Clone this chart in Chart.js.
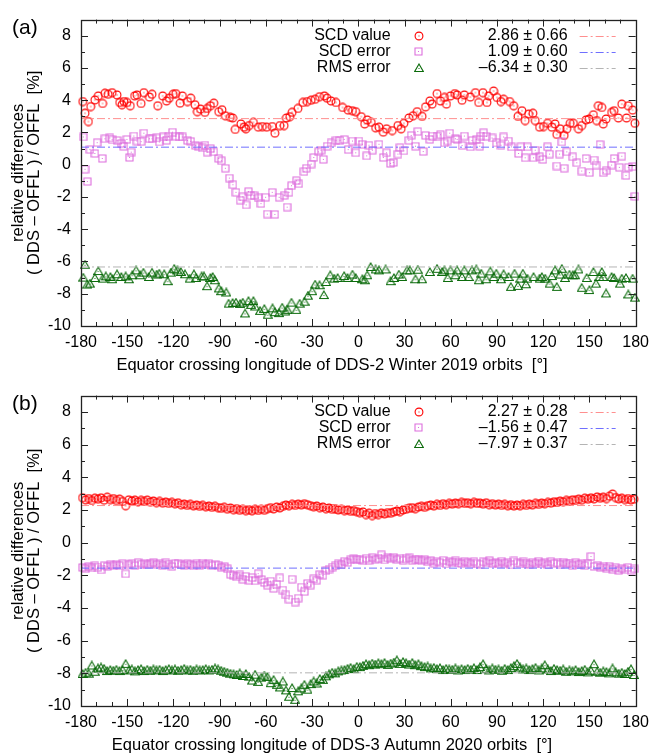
<!DOCTYPE html>
<html>
<head>
<meta charset="utf-8">
<script src="https://cdn.jsdelivr.net/npm/chart.js@4.4.0/dist/chart.umd.min.js"></script>
<style>
  html, body { margin: 0; padding: 0; background: #fff; }
  #wrap { position: relative; width: 656px; height: 753px; }
  canvas { position: absolute; left: 0; }
</style>
</head>
<body>
<div id="wrap">
  <canvas id="chartA" width="656" height="376" style="top:0"></canvas>
  <canvas id="chartB" width="656" height="377" style="top:376px"></canvas>
</div>
<script>
const FONT = '"Liberation Sans", Arial, Helvetica, sans-serif';

const seriesNames = ['SCD value', 'SCD error', 'RMS error'];

// panel (a): DDS-2 Winter 2019
const meansA = [2.86, 1.09, -6.34];
const sdsA = [0.66, 0.60, 0.30];

const lonRedA = [
  -178.9,-177.4,-175.2,-173.7,-171.0,-168.8,-166.0,-164.5,-162.4,-159.8,
  -156.6,-154.9,-153.4,-152.1,-150.2,-148.0,-145.2,-143.7,-141.0,-139.2,
  -135.6,-133.9,-130.2,-127.0,-124.5,-122.7,-120.2,-118.5,-115.7,-114.2,
  -110.9,-108.8,-106.0,-104.5,-102.4,-99.6,-98.1,-96.0,-93.8,-90.6,
  -88.5,-86.3,-83.1,-81.6,-79.9,-76.2,-74.1,-73.0,-70.9,-68.1,
  -64.9,-62.3,-59.5,-55.9,-54.2,-50.9,-48.2,-46.7,-44.5,-43.0,
  -39.2,-36.0,-33.2,-30.6,-28.0,-25.2,-22.0,-20.3,-17.7,-14.5,
  -10.2,-6.6,-3.8,-1.7,1.9,4.1,5.8,8.4,11.2,13.4,
  16.2,18.3,22.0,25.7,27.8,29.6,32.8,35.6,38.2,41.4,
  43.6,46.4,47.9,51.1,53.3,55.9,57.2,59.8,62.6,64.1,
  67.3,68.8,72.7,76.0,78.1,80.9,83.5,84.6,87.8,90.0,
  92.6,94.3,98.2,100.8,103.6,106.2,108.3,110.5,113.3,114.8,
  117.6,120.2,122.8,125.6,127.7,128.8,131.0,133.6,135.3,137.5,
  139.6,142.9,145.0,147.8,149.8,152.6,154.7,155.8,158.0,159.0,
  160.8,164.4,166.0,168.8,171.0,174.1,175.2,178.0,179.5
];
const redA = [
  3.92,3.19,2.68,3.61,4.02,4.27,3.80,4.43,4.37,4.47,
  4.33,3.86,3.72,3.92,3.86,3.66,4.27,4.33,3.80,4.47,
  4.20,4.37,3.66,4.27,3.96,4.13,4.37,4.41,3.82,4.27,
  3.92,4.13,3.72,3.29,3.45,3.25,3.49,3.66,3.82,3.29,
  3.41,3.04,2.94,2.90,2.19,2.53,2.33,2.23,2.43,2.63,
  2.33,2.37,2.33,2.37,1.96,2.43,2.43,2.90,2.98,3.25,
  3.49,3.86,3.92,4.00,4.06,4.22,4.27,4.13,3.96,3.86,
  3.55,3.39,3.35,3.29,2.98,2.53,2.78,2.63,2.29,2.33,
  2.02,2.23,2.12,2.43,2.23,2.57,2.90,3.04,3.29,3.00,
  3.59,3.96,3.76,4.41,3.96,4.17,3.76,4.27,4.41,4.33,
  4.00,4.33,4.20,4.47,3.86,4.47,3.86,4.27,4.57,4.17,
  3.92,4.06,3.92,3.66,3.00,3.35,2.74,3.14,3.19,2.74,
  2.33,2.37,2.57,2.33,2.53,1.88,2.23,1.82,2.23,2.57,
  2.57,2.23,2.43,2.78,2.84,3.10,2.74,3.66,3.55,2.53,
  2.84,3.25,3.35,2.90,3.76,2.90,3.66,3.39,2.57
];

const lonPinkA = [
  -178.5,-177.4,-175.9,-174.2,-171.0,-169.5,-166.2,-164.5,-161.3,-159.8,
  -156.6,-153.8,-152.3,-150.2,-148.5,-147.4,-145.7,-143.7,-141.0,-139.2,
  -135.6,-133.9,-130.9,-129.2,-126.6,-124.5,-123.2,-120.6,-118.5,-116.3,
  -114.2,-110.9,-108.8,-105.6,-103.5,-101.3,-99.6,-98.1,-96.0,-93.8,
  -90.6,-88.9,-86.3,-83.7,-81.4,-79.4,-76.7,-75.0,-72.8,-71.3,
  -69.8,-67.7,-64.9,-63.2,-60.2,-59.1,-55.9,-54.2,-51.4,-48.2,
  -46.2,-45.0,-43.4,-40.2,-38.7,-35.3,-33.8,-30.6,-28.9,-25.9,
  -24.2,-22.7,-20.3,-17.7,-14.5,-11.9,-9.2,-6.6,-3.8,-1.7,
  0.4,2.6,5.4,6.9,9.1,13.4,16.2,18.3,20.9,22.7,
  25.7,27.0,29.6,32.8,34.3,37.1,38.6,42.1,43.6,46.4,
  47.9,51.1,53.3,55.9,57.6,59.3,63.0,64.1,67.3,68.8,
  72.7,73.8,76.6,78.8,79.6,81.3,83.1,86.8,89.6,92.6,
  94.3,97.5,99.3,104.0,105.5,108.3,109.8,113.7,114.8,117.6,
  119.8,122.8,124.1,128.8,130.6,132.1,133.6,135.3,139.2,141.8,
  145.0,147.8,150.0,153.0,154.3,156.9,159.0,160.8,164.4,166.0,
  169.4,171.0,173.7,175.2,178.0,179.5
];
const pinkA = [
  1.72,-0.28,-1.04,0.94,0.70,1.37,0.39,1.61,1.66,1.55,
  1.51,1.31,1.15,1.57,0.45,0.78,1.78,1.47,1.43,1.96,
  1.61,1.61,1.66,1.41,1.72,1.51,1.76,2.02,1.76,1.72,
  1.72,1.51,1.45,1.19,1.11,1.04,1.21,0.78,1.00,0.80,
  0.39,0.25,-0.22,-0.83,-1.24,-1.71,-2.20,-1.99,-2.49,-1.67,
  -1.92,-1.90,-2.06,-2.41,-2.02,-3.06,-1.71,-3.08,-2.02,-1.90,
  -2.63,-1.71,-1.30,-0.99,-1.18,-0.43,-0.22,0.04,0.45,0.80,
  0.90,0.33,1.15,1.35,1.51,1.51,1.57,0.94,1.47,0.74,
  1.47,1.27,0.55,1.21,0.90,1.27,0.45,0.74,0.08,0.14,
  0.66,1.06,0.86,1.51,1.82,1.15,2.06,0.82,1.82,1.57,
  1.78,1.78,1.86,1.35,1.47,1.96,1.61,1.57,1.19,1.78,
  1.11,1.51,1.57,1.15,1.78,1.98,1.76,1.66,1.35,1.21,
  1.72,1.47,1.11,0.70,1.11,0.43,1.11,0.43,0.90,0.49,
  0.33,1.11,0.66,-0.08,0.66,1.41,-0.22,0.80,0.49,0.12,
  -0.39,0.39,-0.49,0.29,-0.02,1.25,-0.49,-0.37,-0.02,0.39,
  -0.16,0.53,-0.67,-0.16,-0.12,-1.96
];

const lonGreenA = [
  -178.5,-177.4,-175.9,-174.2,-171.0,-168.8,-166.0,-163.9,-160.9,-159.6,
  -156.6,-153.8,-151.0,-148.9,-146.7,-144.2,-141.6,-139.5,-136.0,-133.9,
  -130.9,-129.2,-126.0,-123.8,-121.7,-119.5,-117.4,-115.2,-112.5,-109.5,
  -106.7,-105.2,-101.7,-100.2,-98.1,-96.0,-94.5,-93.2,-90.6,-88.9,
  -85.7,-84.2,-81.6,-79.4,-76.7,-75.0,-73.5,-71.3,-69.6,-68.1,
  -67.0,-63.8,-61.0,-58.9,-55.7,-54.2,-51.4,-49.4,-47.3,-46.0,
  -43.4,-40.2,-38.1,-34.9,-32.7,-29.9,-28.0,-25.2,-22.4,-20.9,
  -18.2,-15.6,-13.4,-9.2,-7.0,-3.8,-1.7,2.6,4.1,5.8,
  8.0,11.2,13.4,17.7,20.9,23.1,26.3,28.5,31.7,33.4,
  37.1,38.6,41.4,46.4,51.1,54.4,55.9,58.0,59.8,63.0,
  64.1,67.3,68.8,71.6,73.8,76.6,78.1,79.8,83.1,85.7,
  87.8,89.6,92.6,94.3,97.5,99.0,101.4,103.6,105.1,106.8,
  108.8,109.8,113.7,117.6,119.1,121.3,124.1,125.6,127.7,128.8,
  131.0,132.1,134.2,137.0,139.2,140.7,142.9,145.0,148.2,150.0,
  152.6,154.3,156.5,158.0,159.0,160.8,164.4,166.0,169.8,171.0,
  173.7,175.2,178.0,179.5
];
const greenA = [
  -7.00,-6.20,-7.43,-7.37,-7.02,-6.59,-7.06,-6.92,-6.96,-7.10,
  -6.79,-6.96,-6.92,-7.10,-6.85,-6.55,-6.85,-6.69,-6.96,-6.69,
  -6.81,-6.75,-6.79,-7.22,-6.69,-6.45,-6.55,-6.65,-6.79,-7.06,
  -6.79,-7.02,-6.92,-6.92,-7.53,-7.02,-6.96,-7.16,-7.67,-7.84,
  -7.92,-8.61,-8.57,-8.55,-8.63,-8.55,-9.22,-8.45,-8.69,-8.45,
  -8.79,-9.06,-8.94,-9.30,-8.90,-9.14,-9.20,-8.86,-9.10,-9.00,
  -8.55,-9.00,-8.61,-8.49,-8.12,-7.84,-7.43,-7.47,-8.08,-7.27,
  -6.85,-7.06,-7.02,-6.90,-7.02,-6.81,-7.02,-7.10,-7.16,-6.85,
  -6.34,-6.49,-6.55,-6.49,-7.22,-7.02,-6.81,-6.96,-6.55,-6.55,
  -7.10,-6.51,-7.10,-6.65,-6.45,-6.65,-6.55,-7.02,-6.55,-6.85,
  -6.55,-6.96,-6.55,-6.96,-6.55,-6.49,-7.16,-6.75,-7.10,-6.61,
  -6.96,-6.75,-7.10,-6.79,-6.96,-7.57,-6.75,-7.51,-7.06,-6.75,
  -7.41,-7.06,-6.96,-7.06,-6.96,-7.06,-7.37,-6.90,-6.55,-7.57,
  -6.81,-6.45,-7.02,-6.81,-6.85,-6.85,-6.49,-7.63,-7.02,-7.77,
  -6.65,-7.37,-6.96,-6.65,-6.96,-7.98,-6.96,-7.02,-7.37,-7.06,
  -7.02,-8.04,-7.06,-8.24
];

// panel (b): DDS-3 Autumn 2020
const meansB = [2.27, -1.56, -7.97];
const sdsB = [0.28, 0.47, 0.37];

const lonB = [
  -179,-177,-175,-173,-171,-169,-167,-165,-163,-161,
  -159,-157,-155,-153,-151,-149,-147,-145,-143,-141,
  -139,-137,-135,-133,-131,-129,-127,-125,-123,-121,
  -119,-117,-115,-113,-111,-109,-107,-105,-103,-101,
  -99,-97,-95,-93,-91,-89,-87,-85,-83,-81,
  -79,-77,-75,-73,-71,-69,-67,-65,-63,-61,
  -59,-57,-55,-53,-51,-49,-47,-45,-43,-41,
  -39,-37,-35,-33,-31,-29,-27,-25,-23,-21,
  -19,-17,-15,-13,-11,-9,-7,-5,-3,-1,
  1,3,5,7,9,11,13,15,17,19,
  21,23,25,27,29,31,33,35,37,39,
  41,43,45,47,49,51,53,55,57,59,
  61,63,65,67,69,71,73,75,77,79,
  81,83,85,87,89,91,93,95,97,99,
  101,103,105,107,109,111,113,115,117,119,
  121,123,125,127,129,131,133,135,137,139,
  141,143,145,147,149,151,153,155,157,159,
  161,163,165,167,169,171,173,175,177,179
];
const redB = [
  2.75,2.62,2.70,2.58,2.72, 2.66,2.74,2.60,2.78,2.64,
  2.70,2.58,2.66,2.52,2.26, 2.62,2.55,2.60,2.50,2.58,
  2.52,2.60,2.48,2.55,2.45, 2.52,2.42,2.48,2.40,2.46,
  2.38,2.44,2.32,2.36,2.28, 2.34,2.25,2.30,2.22,2.28,
  2.20,2.24,2.16,2.22,2.14, 2.10,2.16,2.05,2.12,2.02,
  2.08,1.98,2.04,1.96,2.02, 1.95,2.03,1.97,2.05,1.98,
  2.08,2.14,2.06,2.18,2.12, 2.22,2.30,2.26,2.34,2.28,
  2.36,2.30,2.38,2.32,2.26, 2.20,2.24,2.14,2.18,2.08,
  2.12,2.04,2.08,2.00,2.04, 1.96,2.00,1.92,1.96,1.90,
  1.84,1.88,1.72,1.80,1.66, 1.78,1.72,1.82,1.76,1.84,
  1.80,1.88,1.94,1.90,2.00, 2.04,2.10,2.14,2.08,2.18,
  2.22,2.16,2.26,2.30,2.24, 2.34,2.28,2.38,2.32,2.40,
  2.36,2.42,2.38,2.46,2.40, 2.44,2.38,2.46,2.40,2.42,
  2.36,2.44,2.32,2.38,2.30, 2.36,2.28,2.34,2.26,2.32,
  2.24,2.30,2.26,2.34,2.28, 2.36,2.30,2.40,2.34,2.42,
  2.38,2.46,2.42,2.50,2.46, 2.54,2.50,2.58,2.52,2.62,
  2.58,2.66,2.60,2.72,2.66, 2.74,2.68,2.80,2.72,2.78,
  2.70,2.84,2.97,2.76,2.68, 2.72,2.64,2.70,2.62,2.66
];
const pinkB = [
  -1.52,-1.60,-1.46,-1.55,-1.42, -1.50,-1.67,-1.40,-1.46,-1.36,
  -1.42,-1.34,-1.40,-1.30,-1.91, -1.36,-1.28,-1.40,-1.24,-1.32,
  -1.26,-1.36,-1.30,-1.22,-1.34, -1.28,-1.38,-1.24,-1.32,-1.46,
  -1.30,-1.26,-1.36,-1.40,-1.28, -1.34,-1.42,-1.30,-1.38,-1.26,
  -1.36,-1.28,-1.40,-1.32,-1.38, -1.52,-1.46,-1.60,-1.94,-2.02,
  -2.10,-1.98,-2.24,-2.06,-2.30, -2.14,-2.34,-1.90,-2.26,-2.44,
  -2.60,-2.36,-2.80,-2.54,-2.16, -2.90,-3.20,-3.46,-2.24,-3.64,
  -3.40,-2.72,-3.00,-2.50,-2.60, -2.22,-2.30,-1.94,-2.00,-1.72,
  -1.62,-1.50,-1.42,-1.30,-1.36, -1.14,-1.22,-1.06,-1.00,-1.04,
  -1.02,-1.10,-0.96,-1.08,-0.92, -1.04,-0.98,-0.75,-1.06,-0.94,
  -1.00,-0.90,-1.04,-0.96,-1.08, -1.00,-0.94,-1.10,-1.02,-1.06,
  -1.12,-1.04,-1.18,-1.10,-1.26, -1.14,-1.22,-1.08,-1.30,-1.16,
  -1.20,-1.12,-1.24,-1.28,-1.14, -1.22,-1.30,-1.16,-1.26,-1.32,
  -1.18,-1.24,-1.10,-1.28,-1.22, -1.30,-1.14,-1.26,-1.20,-1.36,
  -1.12,-1.24,-1.30,-1.18,-1.26, -1.34,-1.20,-1.28,-1.14,-1.30,
  -1.22,-1.36,-1.18,-1.28,-1.24, -1.32,-1.20,-1.30,-1.26,-1.38,
  -1.24,-1.34,-1.28,-1.40,-1.30, -0.85,-1.46,-1.38,-1.52,-1.44,
  -1.56,-1.48,-1.62,-1.54,-1.70, -1.58,-1.66,-1.52,-1.68,-1.60
];
const greenB = [
  -8.04,-7.96,-8.02,-7.52,-7.90, -7.70,-7.64,-7.72,-7.86,-7.80,
  -7.84,-7.78,-7.86,-7.80,-7.42, -7.82,-7.76,-7.88,-7.80,-7.74,
  -7.86,-7.78,-7.84,-7.76,-7.82, -7.78,-7.86,-7.80,-7.74,-7.82,
  -7.76,-7.84,-7.80,-7.72,-7.82, -7.78,-7.84,-7.76,-7.82,-7.80,
  -7.74,-7.82,-7.78,-7.70,-7.76, -7.84,-7.90,-7.96,-8.02,-8.06,
  -8.10,-8.00,-8.16,-8.04,-8.20, -8.44,-8.08,-8.52,-8.26,-8.14,
  -8.22,-8.60,-8.40,-8.70,-8.86, -8.50,-9.04,-9.43,-8.90,-9.62,
  -9.10,-8.92,-8.70,-9.00,-8.66, -8.50,-8.62,-8.34,-8.40,-8.18,
  -8.06,-7.96,-8.00,-7.88,-7.82, -7.80,-7.72,-7.66,-7.74,-7.60,
  -7.62,-7.54,-7.44,-7.50,-7.40, -7.46,-7.38,-7.44,-7.36,-7.48,
  -7.40,-7.34,-7.20,-7.42,-7.30, -7.38,-7.46,-7.36,-7.50,-7.44,
  -7.56,-7.62,-7.58,-7.70,-7.66, -7.74,-7.68,-7.80,-7.72,-7.76,
  -7.78,-7.70,-7.82,-7.74,-7.80, -7.72,-7.78,-7.68,-7.80,-7.62,
  -7.44,-7.74,-7.82,-7.70,-7.78, -7.76,-7.84,-7.72,-7.80,-7.68,
  -7.56,-7.42,-7.64,-7.76,-7.70, -7.80,-7.74,-7.66,-7.82,-7.70,
  -7.50,-7.76,-7.86,-7.72,-7.80, -7.84,-7.76,-7.90,-7.82,-7.88,
  -7.80,-7.92,-7.86,-7.78,-7.94, -7.84,-7.44,-7.90,-7.96,-7.88,
  -7.92,-8.00,-7.70,-7.94,-8.02, -7.96,-8.04,-7.90,-7.74,-8.10
];

const pointColors = ['#ff0000', '#dd6edd', '#0b6b0b'];
const lineColors = ['#ff8f8f', '#6f6fff', '#b4b4b4'];

// small canvases used as point styles (open marker with a centre dot)
function marker(kind, color, size) {
  const cv = document.createElement('canvas');
  cv.width = size; cv.height = size;
  const g = cv.getContext('2d');
  const m = size / 2;
  g.strokeStyle = color; g.fillStyle = color; g.lineWidth = 1.1;
  g.beginPath();
  if (kind === 'circle') g.arc(m, m, m - 1.1, 0, Math.PI * 2);
  else if (kind === 'square') g.rect(1, 1, size - 2, size - 2);
  else { g.moveTo(m, 1); g.lineTo(size - 0.7, size - 1.5); g.lineTo(0.7, size - 1.5); g.closePath(); }
  g.stroke();
  g.fillRect(m - 0.5, (kind === 'triangle' ? m + 0.5 : m) - 0.5, 1, 1);
  return cv;
}
const markers = [
  marker('circle', pointColors[0], 10),
  marker('square', pointColors[1], 9),
  marker('triangle', pointColors[2], 10)
];

function pts(lon, val) {
  return val.map((v, i) => ({ x: lon[i], y: v }));
}
function fmt(v) {
  return v.toFixed(2).replace('-', '\u2013');
}

function makePanel(id, tag, xTitle, padTop, axisH, series, means, sds) {
  const framePlugin = {
    id: 'frame',
    afterDatasetsDraw(chart) {
      const { ctx, chartArea: a, scales: { x, y } } = chart;
      ctx.save();
      ctx.strokeStyle = '#222';
      ctx.lineWidth = 1;
      ctx.beginPath();
      for (let v = -170; v < 180; v += 10) {
        const px = Math.round(x.getPixelForValue(v)) + 0.5;
        const len = v % 30 === 0 ? 7 : 4;
        ctx.moveTo(px, a.bottom); ctx.lineTo(px, a.bottom - len);
        ctx.moveTo(px, a.top); ctx.lineTo(px, a.top + len);
      }
      for (let v = -9; v <= 8; v += 1) {
        const py = Math.round(y.getPixelForValue(v)) + 0.5;
        const len = v % 2 === 0 ? 7 : 4;
        ctx.moveTo(a.left, py); ctx.lineTo(a.left + len, py);
        ctx.moveTo(a.right, py); ctx.lineTo(a.right - len, py);
      }
      ctx.stroke();
      ctx.lineWidth = 1.3;
      ctx.strokeRect(Math.round(a.left) + 0.5, Math.round(a.top) + 0.5,
                     Math.round(a.width), Math.round(a.height));
      ctx.restore();
    }
  };

  const legendPlugin = {
    id: 'statsLegend',
    afterDraw(chart) {
      const { ctx, chartArea: a } = chart;
      ctx.save();
      ctx.fillStyle = '#000';
      ctx.textBaseline = 'middle';
      ctx.font = '21px ' + FONT;
      ctx.textAlign = 'left';
      ctx.fillText(tag, 12, a.top + 9);
      // x axis title, centred like the original figure
      ctx.font = '16.5px ' + FONT;
      ctx.textAlign = 'center';
      ctx.fillText(xTitle, 332, a.bottom + 39);
      ctx.font = '16px ' + FONT;
      seriesNames.forEach((name, i) => {
        const yy = a.top + 16 + i * 16;
        ctx.textAlign = 'right';
        ctx.fillText(name, a.right - 245, yy);
        ctx.fillText(fmt(means[i]) + ' \u00b1 ' + sds[i].toFixed(2), a.right - 68, yy);
        const img = markers[i];
        ctx.drawImage(img, Math.round(a.right - 217 - img.width / 2), Math.round(yy - img.height / 2));
        ctx.strokeStyle = lineColors[i];
        ctx.lineWidth = 1;
        ctx.setLineDash([8, 3, 2, 3]);
        ctx.beginPath();
        ctx.moveTo(a.right - 56, Math.round(yy) + 0.5);
        ctx.lineTo(a.right - 20, Math.round(yy) + 0.5);
        ctx.stroke();
        ctx.setLineDash([]);
      });
      ctx.restore();
    }
  };

  const datasets = [];
  series.forEach((s, i) => {
    datasets.push({
      label: seriesNames[i],
      data: pts(s[0], s[1]),
      showLine: false,
      pointStyle: markers[i],
      pointRadius: 4,
      clip: false,
      order: 3 - i
    });
  });
  means.forEach((m, i) => {
    datasets.push({
      label: seriesNames[i] + ' mean',
      data: [{ x: -180, y: m }, { x: 180, y: m }],
      showLine: true,
      borderColor: lineColors[i],
      borderWidth: 1,
      borderDash: [8, 3, 2, 3],
      pointRadius: 0,
      order: 0
    });
  });

  return new Chart(document.getElementById(id), {
    type: 'scatter',
    data: { datasets },
    options: {
      responsive: false,
      animation: false,
      events: [],
      layout: { padding: { left: 0, right: 19, top: padTop, bottom: 0 } },
      plugins: { legend: { display: false }, tooltip: { enabled: false } },
      scales: {
        x: {
          type: 'linear', min: -180, max: 180,
          grid: { display: false, drawTicks: false },
          border: { display: false },
          ticks: { stepSize: 30, color: '#000', padding: 7, maxRotation: 0, autoSkip: false,
                   font: { family: FONT, size: 16 } },
          title: { display: false },
          afterFit: s => { s.height = axisH; }
        },
        y: {
          type: 'linear', min: -10, max: 9,
          grid: { display: false, drawTicks: false },
          border: { display: false },
          ticks: { stepSize: 2, includeBounds: false, color: '#000', padding: 10,
                   font: { family: FONT, size: 16 } },
          title: { display: true,
                   text: ['relative differences', '( DDS \u2013 OFFL ) / OFFL  [%]'],
                   color: '#000',
                   font: { family: FONT, size: 16.5, lineHeight: 1.0 },
                   padding: { top: 10, bottom: 0 } },
          afterFit: s => { s.width = 81; }
        }
      }
    },
    plugins: [framePlugin, legendPlugin]
  });
}

makePanel('chartA', '(a)', 'Equator crossing longitude of DDS-2 Winter 2019 orbits  [\u00b0]',
  15, 50,
  [[lonRedA, redA], [lonPinkA, pinkA], [lonGreenA, greenA]], meansA, sdsA);

makePanel('chartB', '(b)', 'Equator crossing longitude of DDS-3 Autumn 2020 orbits  [\u00b0]',
  18, 47,
  [[lonB, redB], [lonB, pinkB], [lonB, greenB]], meansB, sdsB);
</script>
</body>
</html>
